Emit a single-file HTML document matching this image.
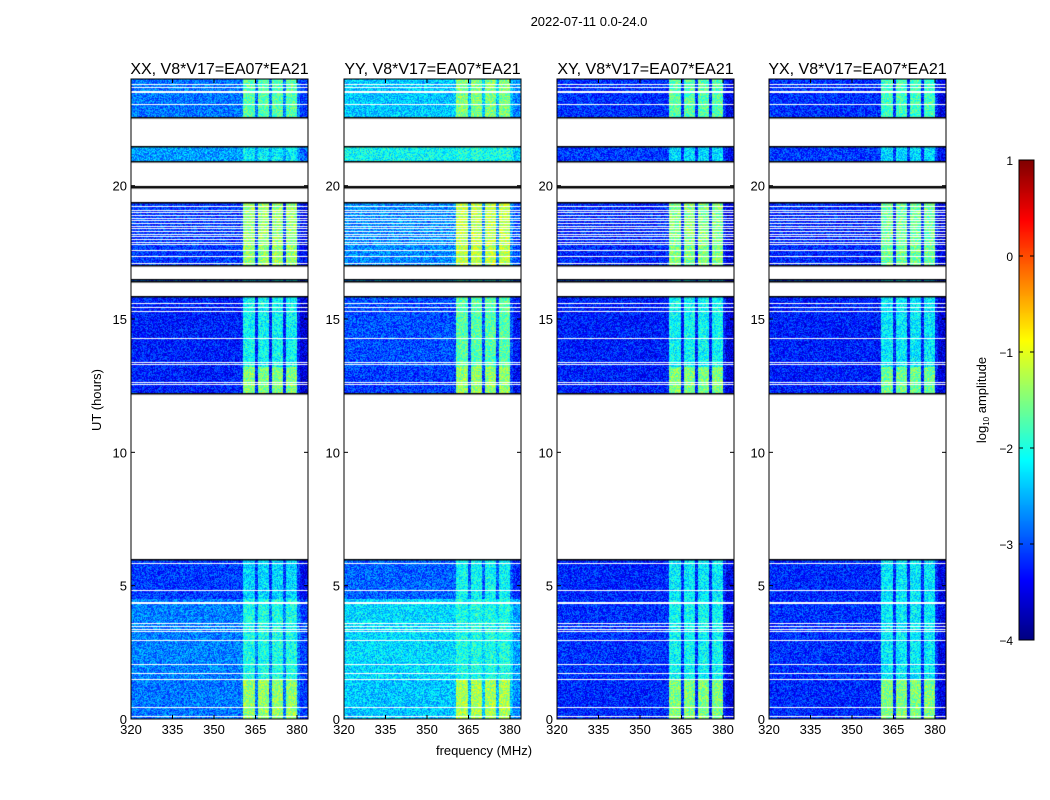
<!DOCTYPE html>
<html><head><meta charset="utf-8"><style>
html,body{margin:0;padding:0;background:#fff;}
#wrap{position:relative;width:1050px;height:800px;overflow:hidden;font-family:"Liberation Sans",sans-serif;}
canvas,svg{position:absolute;left:0;top:0;}
</style></head><body>
<div id="wrap">
<canvas id="cv" width="1050" height="800"></canvas>
<svg id="sv" width="1050" height="800"></svg>
</div>
<script>
// ---- data ----
const panelNames = ["XX, V8*V17=EA07*EA21","YY, V8*V17=EA07*EA21","XY, V8*V17=EA07*EA21","YX, V8*V17=EA07*EA21"];
const segStart = [0.0, 1.5, 4.5, 12.2, 13.2, 16.37, 16.97, 19.9, 20.9, 22.55];
const segEnd   = [1.5, 4.5, 6.0, 13.2, 15.88, 16.5, 19.4, 20.0, 21.5, 24.0];
const baseXX = [-2.8,-2.75,-3.1,-3.25,-3.25,-2.9,-3.1,-2.6,-2.6,-2.8];
const bandXX = [-1.4,-2.0,-2.3,-1.5,-2.1,-2.3,-1.4,-0.9,-2.2,-1.7];
const baseYY = [-2.4,-2.3,-2.9,-3.1,-3.0,-2.6,-2.7,-2.3,-2.1,-2.4];
const bandYY = [-1.3,-2.0,-2.1,-1.4,-1.7,-2.0,-1.2,-0.9,-2.0,-1.5];
const baseXY = [-3.2,-3.15,-3.2,-3.25,-3.25,-3.0,-3.2,-2.8,-3.1,-3.15];
const bandXY = [-1.5,-2.1,-2.2,-1.5,-2.1,-2.3,-1.5,-0.9,-2.3,-1.7];
const baseYX = [-3.2,-3.15,-3.2,-3.25,-3.25,-3.0,-3.2,-2.8,-3.1,-3.15];
const bandYX = [-1.5,-2.2,-2.2,-1.6,-2.2,-2.3,-1.6,-1.0,-2.3,-1.8];
const bandLo = [360.5, 366.0, 371.0, 376.0];
const bandHi = [364.8, 370.0, 375.0, 380.0];
const whiteLines = [0.1,0.45,1.5,1.72,2.06,2.96,3.3,3.37,3.48,3.6,4.34,4.38,4.83,5.84,
  12.55,12.63,13.3,13.4,14.3,15.3,15.45,15.6,
  17.1,17.35,17.6,17.8,17.9,18.0,18.1,18.2,18.3,18.4,18.5,18.6,18.7,18.8,18.9,19.0,19.1,19.25,
  23.07,23.5,23.55,23.7,23.8];
const xTicks = [320,335,350,365,380];
const yTicks = [0,5,10,15,20];
const cTicks = [1,0,-1,-2,-3,-4];
// ---- layout ----
const lefts=[131,344,557,769], PW=177, TOP=79, BOT=719;
const fMin=320, fMax=320+PW*15/41.5, hMax=24, cMin=-4, cMax=1;
const xs=(l,f)=>l+(f-fMin)/(fMax-fMin)*PW;
const ys=h=>BOT-(h/hMax)*(BOT-TOP);
function jet(v){let t=(v-cMin)/(cMax-cMin);t=Math.max(0,Math.min(1,t));
 const c=x=>Math.round(255*Math.max(0,Math.min(1,x)));
 return [c(1.5-Math.abs(4*t-3)),c(1.5-Math.abs(4*t-2)),c(1.5-Math.abs(4*t-1))];}
function hash(a,b){let h=(a*374761393+b*668265263)|0;h=(h^(h>>>13))*1274126177|0;return ((h^(h>>>16))>>>0)/4294967296;}
const bases=[baseXX,baseYY,baseXY,baseYX], bands=[bandXX,bandYY,bandXY,bandYX];
const cv=document.getElementById('cv'),ctx=cv.getContext('2d');
const img=ctx.createImageData(1050,800);
for(let i=0;i<1050*800*4;i++)img.data[i]=255;
const whiteRows=new Set(whiteLines.map(h=>Math.round(ys(h))));
for(let p=0;p<4;p++){
 const L=lefts[p];
 for(let y=TOP;y<BOT;y++){
  const h=(BOT-y-0.5)/(BOT-TOP)*hMax;
  let s=-1;for(let k=0;k<segStart.length;k++)if(h>=segStart[k]&&h<segEnd[k])s=k;
  if(s<0||whiteRows.has(y))continue;
  for(let x=L;x<L+PW;x++){
   const f=fMin+(x-L+0.5)/PW*(fMax-fMin);
   let v=bases[p][s];
   for(let b=0;b<bandLo.length;b++)if(f>=bandLo[b]&&f<bandHi[b])v=bands[p][s];
   if(f>381)v-=0.3;
   v+=(hash(x+p*999,y)-0.5)*0.9;
   const c=jet(v),i=(y*1050+x)*4;img.data[i]=c[0];img.data[i+1]=c[1];img.data[i+2]=c[2];
  }
 }
}
// colorbar
for(let y=160;y<640;y++){const v=cMax-(y-160)/480*(cMax-cMin);const c=jet(v);
 for(let x=1019;x<1034;x++){const i=(y*1050+x)*4;img.data[i]=c[0];img.data[i+1]=c[1];img.data[i+2]=c[2];}}
ctx.putImageData(img,0,0);
// black lines only at edges adjacent to gaps
ctx.fillStyle='#000';
const touches=(h)=>segStart.some(s=>Math.abs(s-h)<1e-6)&&segEnd.some(e=>Math.abs(e-h)<1e-6);
for(let p=0;p<4;p++)for(let k=0;k<segStart.length;k++){
 if(segStart[k]>0&&!touches(segStart[k])){ctx.fillRect(lefts[p],Math.round(ys(segStart[k]))-1,PW,1.5);}
 if(segEnd[k]<24&&!touches(segEnd[k])){ctx.fillRect(lefts[p],Math.round(ys(segEnd[k])),PW,1.5);}
}
// ---- svg overlay ----
const NS='http://www.w3.org/2000/svg',sv=document.getElementById('sv');
function el(tag,attrs,txt){const e=document.createElementNS(NS,tag);for(const k in attrs)e.setAttribute(k,attrs[k]);if(txt!==undefined)e.textContent=txt;sv.appendChild(e);return e;}
let t=el('text',{x:589,y:26,'text-anchor':'middle','font-size':13,'font-family':'Liberation Sans, sans-serif'},'2022-07-11 0.0-24.0');


for(let p=0;p<4;p++){
 const L=lefts[p];
 let r=el('rect',{x:L,y:TOP,width:PW,height:BOT-TOP,fill:'none',stroke:'#000','stroke-width':1});
 
 
 let pt=el('text',{x:L+PW/2,y:74,'text-anchor':'middle','font-size':16,'font-family':'Liberation Sans, sans-serif'},panelNames[p]);
 
 
 xTicks.forEach(f=>{const x=xs(L,f);
  el('line',{x1:x,x2:x,y1:BOT,y2:BOT-4,stroke:'#000'});el('line',{x1:x,x2:x,y1:TOP,y2:TOP+4,stroke:'#000'});
  let tl=el('text',{x:x,y:BOT+15,'text-anchor':'middle','font-size':13,'font-family':'Liberation Sans, sans-serif'},String(f));
  
  });
 yTicks.forEach(h=>{const y=ys(h);
  el('line',{x1:L,x2:L+4,y1:y,y2:y,stroke:'#000'});el('line',{x1:L+PW,x2:L+PW-4,y1:y,y2:y,stroke:'#000'});
  let tl=el('text',{x:L-4,y:y+5,'text-anchor':'end','font-size':13,'font-family':'Liberation Sans, sans-serif'},String(h));
  
  });
}
t=el('text',{x:101,y:400,'text-anchor':'middle','font-size':13,transform:'rotate(-90 101 400)','font-family':'Liberation Sans, sans-serif'},'UT (hours)');


t=el('text',{x:484,y:755,'text-anchor':'middle','font-size':13,'font-family':'Liberation Sans, sans-serif'},'frequency (MHz)');


let cb=el('rect',{x:1019,y:160,width:15,height:480,fill:'none',stroke:'#000'});


cTicks.forEach(c=>{const y=160+(cMax-c)/(cMax-cMin)*480;
 el('line',{x1:1019,x2:1023,y1:y,y2:y,stroke:'#000'});el('line',{x1:1034,x2:1030,y1:y,y2:y,stroke:'#000'});
 let tl=el('text',{x:1013,y:y+5,'text-anchor':'end','font-size':12,'font-family':'Liberation Sans, sans-serif'},c<0?'\u2212'+(-c):String(c));
 
 });
t=el('text',{x:986,y:400,'text-anchor':'middle','font-size':13,transform:'rotate(-90 986 400)','font-family':'Liberation Sans, sans-serif'});
t.innerHTML='log<tspan font-size="8" dy="3">10</tspan><tspan dy="-3"> amplitude</tspan>';


</script>
</body></html>
